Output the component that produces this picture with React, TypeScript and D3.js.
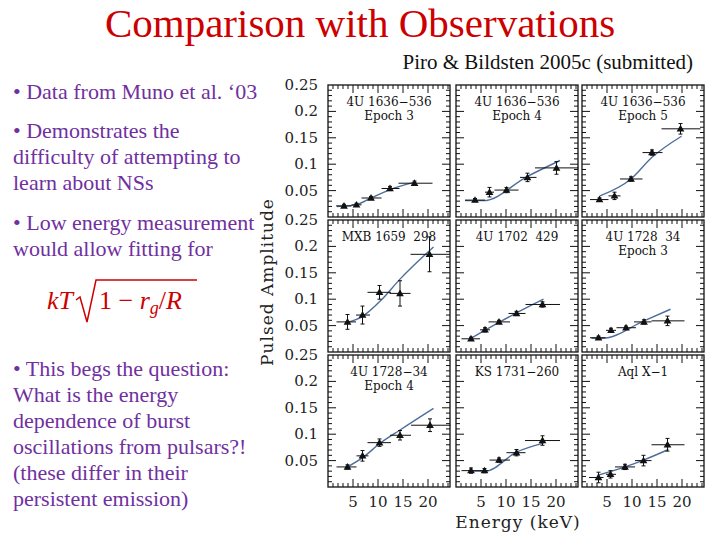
import React from "react";
import * as d3 from "d3";

const panelTitles: string[][] = [
  ["4U 1636\u2212536", "Epoch 3"],
  ["4U 1636\u2212536", "Epoch 4"],
  ["4U 1636\u2212536", "Epoch 5"],
  ["MXB 1659  298"],
  ["4U 1702  429"],
  ["4U 1728  34", "Epoch 3"],
  ["4U 1728\u221234", "Epoch 4"],
  ["KS 1731\u2212260"],
  ["Aql X\u22121"],
];

const pointEnergy: number[][] = [
  [3.2, 5.7, 8.6, 12.4, 17.3],
  [3.8, 6.7, 10.1, 14.3, 20.1],
  [3.5, 6.5, 9.8, 14.0, 19.7],
  [3.9, 6.9, 10.3, 14.4, 20.3],
  [3.0, 5.8, 8.6, 12.1, 17.3],
  [3.3, 5.8, 8.8, 12.4, 17.1],
  [3.9, 6.9, 10.3, 14.4, 20.4],
  [3.0, 5.7, 8.6, 12.1, 17.3],
  [3.3, 5.7, 8.6, 12.3, 17.1],
];
const pointAmp: number[][] = [
  [0.021, 0.023, 0.036, 0.054, 0.064],
  [0.032, 0.047, 0.051, 0.075, 0.093],
  [0.033, 0.040, 0.072, 0.122, 0.167],
  [0.057, 0.070, 0.113, 0.111, 0.185],
  [0.025, 0.042, 0.057, 0.073, 0.090],
  [0.027, 0.041, 0.046, 0.057, 0.059],
  [0.038, 0.059, 0.084, 0.098, 0.117],
  [0.031, 0.031, 0.051, 0.065, 0.088],
  [0.018, 0.024, 0.038, 0.050, 0.080],
];
const energyLo: number[][] = [
  [1.6, 4.7, 6.7, 10.7, 14.1],
  [1.8, 5.8, 7.7, 12.8, 15.8],
  [1.6, 5.3, 7.6, 12.1, 15.9],
  [1.7, 5.6, 7.9, 12.3, 16.5],
  [1.1, 4.8, 6.5, 10.5, 13.9],
  [1.6, 4.8, 6.9, 10.4, 13.9],
  [1.7, 5.7, 7.9, 12.4, 16.6],
  [1.1, 4.8, 6.7, 10.1, 13.8],
  [1.4, 4.8, 6.6, 10.6, 13.9],
];
const energyHi: number[][] = [
  [4.7, 6.7, 10.7, 14.3, 20.9],
  [5.8, 7.6, 12.5, 16.1, 24.5],
  [5.3, 7.7, 12.1, 16.1, 23.7],
  [5.6, 8.4, 12.6, 16.5, 24.4],
  [4.8, 6.8, 10.8, 13.9, 20.8],
  [4.7, 6.8, 10.8, 13.9, 20.5],
  [5.7, 8.1, 12.6, 16.6, 24.5],
  [5.0, 6.5, 10.8, 13.9, 20.8],
  [4.3, 6.8, 10.6, 13.9, 20.5],
];
const ampErr: number[][] = [
  [0.003, 0.003, 0.003, 0.004, 0.004],
  [0.003, 0.009, 0.005, 0.008, 0.012],
  [0.003, 0.007, 0.004, 0.005, 0.010],
  [0.014, 0.017, 0.013, 0.024, 0.033],
  [0.003, 0.004, 0.003, 0.004, 0.005],
  [0.003, 0.004, 0.003, 0.004, 0.009],
  [0.004, 0.010, 0.007, 0.009, 0.012],
  [0.005, 0.004, 0.004, 0.006, 0.009],
  [0.010, 0.007, 0.005, 0.010, 0.012],
];
const modelEnergy: number[][] = [
  [1.8, 5.5, 8.6, 12.4, 17.4],
  [1.8, 5.5, 14.3, 20.8],
  [3.6, 9.8, 14.0, 19.9],
  [3.9, 7.0, 10.5, 14.4, 21.1],
  [3.0, 8.6, 12.1, 17.5],
  [1.9, 4.1, 12.4, 17.7],
  [3.9, 7.0, 10.3, 14.4, 21.1],
  [2.9, 5.9, 12.1, 17.5],
  [3.1, 8.6, 12.3, 17.3],
];
const modelAmp: number[][] = [
  [0.020, 0.023, 0.036, 0.052, 0.066],
  [0.031, 0.031, 0.077, 0.107],
  [0.040, 0.072, 0.113, 0.153],
  [0.056, 0.068, 0.097, 0.138, 0.199],
  [0.026, 0.056, 0.074, 0.100],
  [0.026, 0.026, 0.059, 0.081],
  [0.038, 0.056, 0.082, 0.108, 0.149],
  [0.030, 0.030, 0.066, 0.083],
  [0.022, 0.038, 0.051, 0.071],
];

const yTickLabels = [0.05, 0.1, 0.15, 0.2, 0.25];
const xTickLabels = [5, 10, 15, 20];

const bulletLines: string[][] = [
  ["\u2022 Data from Muno et al. \u201803"],
  ["\u2022 Demonstrates the", "difficulty of attempting to", "learn about NSs"],
  ["\u2022 Low energy measurement", "would allow fitting for"],
  [
    "\u2022 This begs the question:",
    "What is the energy",
    "dependence of burst",
    "oscillations from pulsars?!",
    "(these differ in their",
    "persistent emission)",
  ],
];
const bulletStart = [99, 138, 230, 376];

const COLS = [328, 456, 582];
const ROWS = [85, 220, 355];
const PW = 122;
const PH = 132;
const PURPLE = "#7030A0";
const RED = "#CC0000";
const LINE = "#4d6e9c";
const SERIF = "Liberation Serif";
const PLOTFONT = "DejaVu Serif";

function Panel({ idx }: { idx: number }) {
  const x = d3.scaleLinear().domain([0, 24.4]).range([0, PW]);
  const y = d3.scaleLinear().domain([0, 0.25]).range([PH, 0]);
  const line = d3
    .line<number>()
    .x((_, i) => x(modelEnergy[idx][i]))
    .y((d) => y(d))
    .curve(d3.curveMonotoneX);
  const tri = d3.symbol().type(d3.symbolTriangle).size(26)() as string;
  const xMinor = d3.range(1, 25);
  const yMinor = d3.range(1, 25).map((v) => v / 100);
  const col = idx % 3;
  const row = Math.floor(idx / 3);
  return (
    <g transform={`translate(${COLS[col]},${ROWS[row]})`}>
      <rect x={0} y={0} width={PW} height={PH} fill="white" stroke="#111" strokeWidth={1.3} />
      {xMinor.map((v) => {
        const len = v % 5 === 0 ? 8 : 4;
        return (
          <g key={"x" + v} stroke="#111" strokeWidth={1}>
            <line x1={x(v)} x2={x(v)} y1={PH} y2={PH - len} />
            <line x1={x(v)} x2={x(v)} y1={0} y2={len} />
          </g>
        );
      })}
      {yMinor.map((v, i) => {
        const len = (i + 1) % 5 === 0 ? 8 : 4;
        return (
          <g key={"y" + i} stroke="#111" strokeWidth={1}>
            <line x1={0} x2={len} y1={y(v)} y2={y(v)} />
            <line x1={PW} x2={PW - len} y1={y(v)} y2={y(v)} />
          </g>
        );
      })}
      {panelTitles[idx].map((t, i) => (
        <text
          key={i}
          x={PW / 2}
          y={21 + i * 13.5}
          textAnchor="middle"
          fontFamily={PLOTFONT}
          fontSize={12}
          fill="#111"
          style={{ whiteSpace: "pre" }}
        >
          {t}
        </text>
      ))}
      <path d={line(modelAmp[idx]) as string} fill="none" stroke={LINE} strokeWidth={1.4} />
      {pointEnergy[idx].map((e, i) => {
        const a = pointAmp[idx][i];
        const err = ampErr[idx][i];
        return (
          <g key={"p" + i} stroke="#111" strokeWidth={1}>
            <line x1={x(energyLo[idx][i])} x2={x(energyHi[idx][i])} y1={y(a)} y2={y(a)} />
            <line x1={x(e)} x2={x(e)} y1={y(a - err)} y2={y(a + err)} />
            <line x1={x(e) - 2} x2={x(e) + 2} y1={y(a - err)} y2={y(a - err)} />
            <line x1={x(e) - 2} x2={x(e) + 2} y1={y(a + err)} y2={y(a + err)} />
            <path d={tri} transform={`translate(${x(e)},${y(a) + 0.5})`} fill="#111" stroke="none" />
          </g>
        );
      })}
    </g>
  );
}

export default function App() {
  const yAxis = d3.scaleLinear().domain([0, 0.25]).range([PH, 0]);
  const xAxis = d3.scaleLinear().domain([0, 24.4]).range([0, PW]);
  return (
    <svg
      width={720}
      height={540}
      style={{ position: "absolute", left: 0, top: 0, background: "white" }}
    >
      <rect x={0} y={0} width={720} height={540} fill="white" />
      <text x={360} y={37} textAnchor="middle" fontFamily={SERIF} fontSize={41} fill={RED}>
        Comparison with Observations
      </text>
      <text x={693} y={69} textAnchor="end" fontFamily={SERIF} fontSize={21} fill="#111">
        Piro &amp; Bildsten 2005c (submitted)
      </text>
      {bulletLines.map((group, gi) =>
        group.map((ln, li) => (
          <text
            key={gi + "-" + li}
            x={13}
            y={bulletStart[gi] + li * 26}
            fontFamily={SERIF}
            fontSize={22}
            fill={PURPLE}
          >
            {ln}
          </text>
        ))
      )}
      {/* formula */}
      <g fill={RED} fontFamily={SERIF} fontSize={26}>
        <text x={47} y={309} fontStyle="italic">kT</text>
        <path d="M76,300 L80,297 L87,322 L96,280 L197,280" fill="none" stroke={RED} strokeWidth={1.5} />
        <text x={99} y={309}>
          1 {"\u2212"} <tspan fontStyle="italic">r</tspan>
          <tspan fontStyle="italic" fontSize={18} dy={5}>g</tspan>
          <tspan dy={-5}>/</tspan>
          <tspan fontStyle="italic">R</tspan>
        </text>
      </g>
      {[0, 1, 2, 3, 4, 5, 6, 7, 8].map((i) => (
        <Panel key={i} idx={i} />
      ))}
      {ROWS.map((r, ri) =>
        yTickLabels.map((v) => (
          <text
            key={ri + "-" + v}
            x={318}
            y={r + yAxis(v) + 5}
            textAnchor="end"
            fontFamily={PLOTFONT}
            fontSize={15}
            fill="#222"
          >
            {String(v)}
          </text>
        ))
      )}
      {COLS.map((c, ci) =>
        xTickLabels.map((v) => (
          <text
            key={ci + "-" + v}
            x={c + xAxis(v)}
            y={507}
            textAnchor="middle"
            fontFamily={PLOTFONT}
            fontSize={15}
            fill="#222"
          >
            {v}
          </text>
        ))
      )}
      <text x={518} y={528} textAnchor="middle" fontFamily={PLOTFONT} fontSize={17} letterSpacing={1} fill="#222">
        Energy (keV)
      </text>
      <text
        transform="translate(273,282) rotate(-90)"
        textAnchor="middle"
        fontFamily={PLOTFONT}
        fontSize={17}
        letterSpacing={1}
        fill="#222"
      >
        Pulsed Amplitude
      </text>
    </svg>
  );
}
